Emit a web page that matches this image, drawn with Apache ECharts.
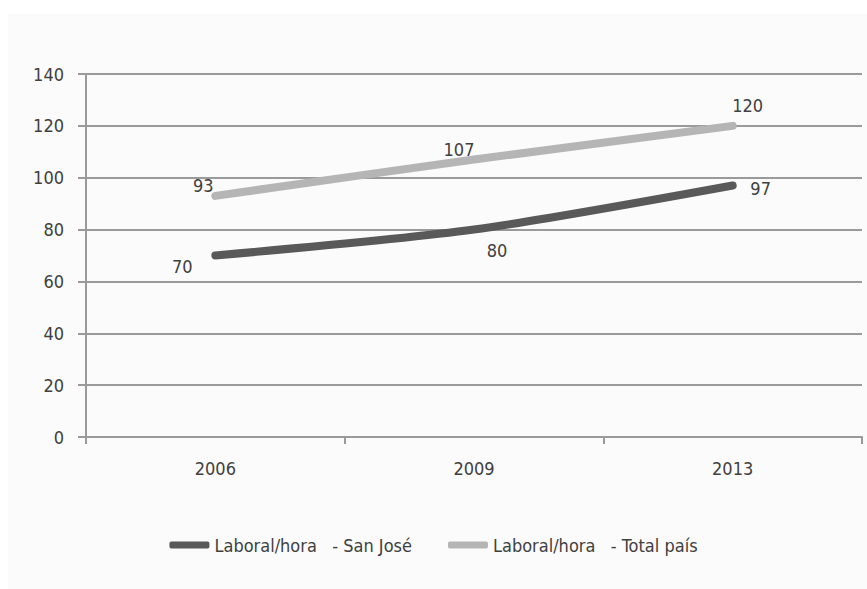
<!DOCTYPE html>
<html>
<head>
<meta charset="utf-8">
<script src="https://cdn.jsdelivr.net/npm/echarts@6/dist/echarts.min.js"></script>
<style>
	html, body { margin: 0; padding: 0; background: #ffffff; }
	#frame { position: absolute; left: 8px; top: 14px; width: 859px; height: 575px; background: #fbfbfb; }
	#main { position: absolute; left: 0; top: 0; width: 867px; height: 589px; }
</style>
</head>
<body>
<div id="frame"></div>
<div id="main"></div>
<script>
	var years = ['2006', '2009', '2013'];
	var sanJose = [70, 80, 97];
	var totalPais = [93, 107, 120];
	var yTicks = [0, 20, 40, 60, 80, 100, 120, 140];
	var seriesNames = ['Laboral/hora   - San José', 'Laboral/hora   - Total país'];
	var seriesColors = ['#595959', '#b5b5b5'];

	var fontName = "'Liberation Sans Narrow', 'DejaVu Sans Condensed', 'Noto Sans', sans-serif";
	var chart = echarts.init(document.getElementById('main'), null, {
		renderer: 'svg'
	});

	// per-point label placement
	var sjPos = [[-33, 11], [23, 21], [28, 3]];
	var tpPos = [[-12, -10], [-15, -10], [15, -20]];

	function withLabels(values, offsets) {
		var out = [];
		for (var i = 0; i < values.length; i++) {
			out.push({
				value: values[i],
				label: { offset: offsets[i] }
			});
		}
		return out;
	}

	var labelStyle = {
		show: true,
		position: 'inside',
		color: '#404040',
		fontFamily: fontName,
		fontSize: 18
	};

	function lineSeries(idx, values, offsets) {
		return {
			name: seriesNames[idx],
			type: 'line',
			data: withLabels(values, offsets),
			smooth: 0.25,
			symbol: 'circle',
			symbolSize: 0.5,
			showSymbol: true,
			color: seriesColors[idx],
			itemStyle: { color: seriesColors[idx] },
			lineStyle: { width: 8, color: seriesColors[idx], cap: 'round' },
			label: labelStyle
		};
	}

	var option = {
		animation: false,
		textStyle: { fontFamily: fontName },
		grid: { left: 86, right: 5, top: 74, bottom: 152 },
		legend: {
			bottom: 30,
			left: 'center',
			itemWidth: 40,
			itemHeight: 7,
			itemGap: 36,
			icon: 'roundRect',
			textStyle: { color: '#404040', fontSize: 18, fontFamily: fontName },
			data: [
				{ name: seriesNames[0], itemStyle: { color: seriesColors[0] } },
				{ name: seriesNames[1], itemStyle: { color: seriesColors[1] } }
			]
		},
		xAxis: {
			type: 'category',
			data: years,
			boundaryGap: true,
			axisLine: { lineStyle: { color: '#9a9a9a', width: 2 } },
			axisTick: { show: true, length: 7, lineStyle: { color: '#9a9a9a', width: 2 } },
			axisLabel: { color: '#404040', fontSize: 18, margin: 22 }
		},
		yAxis: {
			type: 'value',
			min: yTicks[0],
			max: yTicks[yTicks.length - 1],
			interval: 20,
			axisLine: { show: true, lineStyle: { color: '#9a9a9a', width: 2 } },
			axisTick: { show: true, length: 8, lineStyle: { color: '#9a9a9a', width: 2 } },
			axisLabel: { color: '#404040', fontSize: 18, margin: 22 },
			splitLine: { lineStyle: { color: '#9a9a9a', width: 2 } }
		},
		series: [
			lineSeries(0, sanJose, sjPos),
			lineSeries(1, totalPais, tpPos)
		]
	};

	chart.setOption(option);
</script>
</body>
</html>
